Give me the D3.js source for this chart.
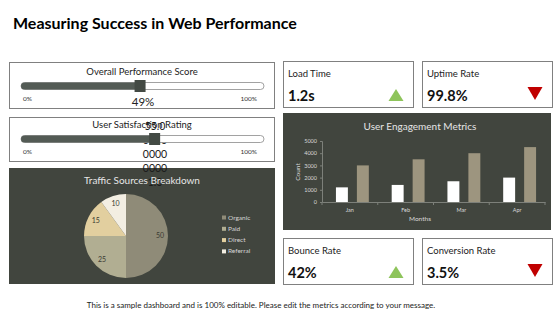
<!DOCTYPE html>
<html>
<head>
<meta charset="utf-8">
<script src="https://cdn.jsdelivr.net/npm/d3@7"></script>
<style>
  body { margin: 0; background: #fff; }
  svg { display: block; font-family: Lato, "Open Sans", sans-serif; }
</style>
</head>
<body>
<div id="chart"></div>
<script>
// data
var sliderNames = ['Overall Performance Score', 'User Satisfaction Rating'];
var sliderValues = [49, 55];
var sliderLabels = ['49%', ''];
var stackLines = ['55.0', '0000', '0000', '0000', '1.0'];

var kpiNames = ['Load Time', 'Uptime Rate', 'Bounce Rate', 'Conversion Rate'];
var kpiValues = ['1.2s', '99.8%', '42%', '3.5%'];
var kpiTrend = ['up', 'down', 'up', 'down'];

var trafficNames = ['Organic', 'Paid', 'Direct', 'Referral'];
var trafficValues = [50, 25, 15, 10];
var trafficColors = ['#8f8b78', '#b1ae92', '#e2cf9f', '#f3eee2'];

var months = ['Jan', 'Feb', 'Mar', 'Apr'];
var seriesNames = ['A', 'B'];
var seriesA = [1200, 1400, 1700, 2000];
var seriesB = [3000, 3500, 4000, 4500];
var countTicks = [0, 1000, 2000, 3000, 4000, 5000];

// small stand-in for d3-selection-multi
d3.selection.prototype.attrs = function (o) {
    for (var k in o) this.attr(k, o[k]);
    return this;
};

var W = 560, H = 315;
var dark = '#41453e';
var svg = d3.select('#chart').append('svg').attr('width', W).attr('height', H);

svg.append('text').attr('x', 13).attr('y', 29)
    .attr('font-size', 16).attr('font-weight', 'bold').attr('fill', '#000')
    .text('Measuring Success in Web Performance');

// panel backgrounds
var sliderBoxes = [{x: 9, y: 62, w: 265, h: 46}, {x: 9, y: 117, w: 265, h: 44}];
sliderBoxes.forEach(function (b) {
    svg.append('rect').attrs({x: b.x + 0.5, y: b.y + 0.5, width: b.w, height: b.h,
        fill: '#fff', stroke: '#808080', 'stroke-width': 1});
});
svg.append('rect').attrs({x: 9, y: 168, width: 266, height: 116, fill: dark});
svg.append('rect').attrs({x: 283, y: 113, width: 268, height: 117, fill: dark});

// overflowing text stack
svg.selectAll('text.stack').data(stackLines).enter().append('text')
    .attr('class', 'stack')
    .attr('x', 155).attr('y', function (d, i) { return 130 + i * 14; })
    .attr('text-anchor', 'middle').attr('font-size', 10.5).attr('fill', '#1a1a1a')
    .text(function (d) { return d; });

// sliders
var sx = d3.scaleLinear().domain([0, 100]).range([21, 264]);
sliderBoxes.forEach(function (b, i) {
    var g = svg.append('g');
    var cy = b.y + (i == 0 ? 24 : 22);
    g.append('text').attrs({x: 142, y: b.y + (i == 0 ? 12.5 : 11), 'text-anchor': 'middle', 'font-size': 9.5, fill: '#222'})
        .text(sliderNames[i]);
    g.append('rect').attrs({x: sx(0), y: cy - 3.5, width: sx(100) - sx(0), height: 7, rx: 3.5,
        fill: '#fff', stroke: '#8a8a8a', 'stroke-width': 0.8});
    g.append('rect').attrs({x: sx(0), y: cy - 3.5, width: sx(sliderValues[i]) - sx(0), height: 7, rx: 3.5,
        fill: '#535b55'});
    g.append('rect').attrs({x: sx(sliderValues[i]) - 5.5, y: cy - 6, width: 11, height: 12,
        fill: '#434a44'});
    g.append('text').attrs({x: 23, y: cy + 15, 'font-size': 6.5, fill: '#333'}).text('0%');
    g.append('text').attrs({x: 257, y: cy + 15, 'text-anchor': 'end', 'font-size': 6.5, fill: '#333'}).text('100%');
    if (sliderLabels[i]) {
        g.append('text').attrs({x: 143, y: cy + 19.5, 'text-anchor': 'middle', 'font-size': 11.5, fill: '#222'})
            .text(sliderLabels[i]);
    }
});

// pie
svg.append('text').attrs({x: 142, y: 184, 'text-anchor': 'middle', 'font-size': 10, fill: '#e6e6e6'})
    .text('Traffic Sources Breakdown');
var pg = svg.append('g').attr('transform', 'translate(126,236)');
var pie = d3.pie().sort(null);
var arc = d3.arc().innerRadius(0).outerRadius(42);
var labelArc = d3.arc().innerRadius(34).outerRadius(34);
var slices = pie(trafficValues);
pg.selectAll('path').data(slices).enter().append('path')
    .attr('d', arc).attr('fill', function (d, i) { return trafficColors[i]; });
pg.selectAll('text').data(slices).enter().append('text')
    .attr('transform', function (d) { return 'translate(' + labelArc.centroid(d) + ')'; })
    .attr('text-anchor', 'middle').attr('dy', '0.35em')
    .attr('font-size', 7).attr('fill', '#3a3a32')
    .text(function (d) { return d.data; });

var lg = svg.append('g').attr('transform', 'translate(222,219)');
trafficNames.forEach(function (n, i) {
    lg.append('rect').attrs({x: 0, y: i * 11.3 - 3.5, width: 4, height: 4, fill: trafficColors[i]});
    lg.append('text').attrs({x: 6, y: i * 11.3 + 0.5, 'font-size': 6.5, fill: '#d6d6d6'}).text(n);
});

// kpi cards
var cards = [{x: 283, y: 61}, {x: 422, y: 61}, {x: 283, y: 238}, {x: 422, y: 238}];
cards.forEach(function (c, i) {
    var g = svg.append('g').attr('transform', 'translate(' + c.x + ',' + c.y + ')');
    g.append('rect').attrs({x: 0.5, y: 0.5, width: 130, height: 46, fill: '#fff', stroke: '#808080'});
    g.append('text').attrs({x: 5, y: 16, 'font-size': 9.5, fill: '#222'}).text(kpiNames[i]);
    g.append('text').attrs({x: 5, y: 40, 'font-size': 14.5, 'font-weight': 'bold', fill: '#111'}).text(kpiValues[i]);
    var tx = 113, up = kpiTrend[i] == 'up';
    var pts = up ? [[tx - 7.5, 40], [tx + 7.5, 40], [tx, 28]] : [[tx - 7.5, 26], [tx + 7.5, 26], [tx, 39]];
    g.append('path').attr('d', d3.line()(pts) + 'Z').attr('fill', up ? '#8ec45b' : '#c00000');
});

// bar chart
svg.append('text').attrs({x: 420, y: 130, 'text-anchor': 'middle', 'font-size': 10, fill: '#e6e6e6'})
    .text('User Engagement Metrics');
var x0 = d3.scaleBand().domain(months).range([322, 545]);
var x1 = d3.scaleBand().domain(seriesNames).range([x0.bandwidth() * 0.25, x0.bandwidth() * 0.84]).paddingInner(0.43);
var y = d3.scaleLinear().domain([0, 5000]).range([202, 141]);
var seriesColors = ['#ffffff', '#9d957f'];
var bars = svg.append('g');
[seriesA, seriesB].forEach(function (s, si) {
    bars.selectAll('rect.s' + si).data(s).enter().append('rect')
        .attr('class', 's' + si)
        .attr('x', function (d, i) { return x0(months[i]) + x1(seriesNames[si]); })
        .attr('y', function (d) { return y(d); })
        .attr('width', x1.bandwidth())
        .attr('height', function (d) { return y(0) - y(d); })
        .attr('fill', seriesColors[si]);
});
var yAxis = svg.append('g').attr('transform', 'translate(322,0)')
    .call(d3.axisLeft(y).tickValues(countTicks).tickSize(2).tickPadding(3).tickFormat(d3.format('d')));
var xAxis = svg.append('g').attr('transform', 'translate(0,202)')
    .call(d3.axisBottom(x0).tickSize(0).tickPadding(6));
[yAxis, xAxis].forEach(function (a) {
    a.selectAll('path, line').attr('stroke', '#7d807a');
    a.selectAll('text').attr('fill', '#d9d9d9').attr('font-size', 5.5).attr('font-family', 'Lato, sans-serif');
});
svg.append('g').selectAll('line').data(months.concat(['end'])).enter().append('line')
    .attr('x1', function (d) { return d == 'end' ? 545 : x0(d); })
    .attr('x2', function (d) { return d == 'end' ? 545 : x0(d); })
    .attr('y1', 202).attr('y2', 205).attr('stroke', '#7d807a');
svg.append('text').attrs({x: 420, y: 221, 'text-anchor': 'middle', 'font-size': 6.5, fill: '#d9d9d9'}).text('Months');
svg.append('text').attr('transform', 'translate(300,172) rotate(-90)')
    .attrs({'text-anchor': 'middle', 'font-size': 6.5, fill: '#d9d9d9'}).text('Count');

svg.append('text').attrs({x: 261, y: 308, 'text-anchor': 'middle', 'font-size': 8, fill: '#222'})
    .text('This is a sample dashboard and is 100% editable. Please edit the metrics according to your message.');
</script>
</body>
</html>
